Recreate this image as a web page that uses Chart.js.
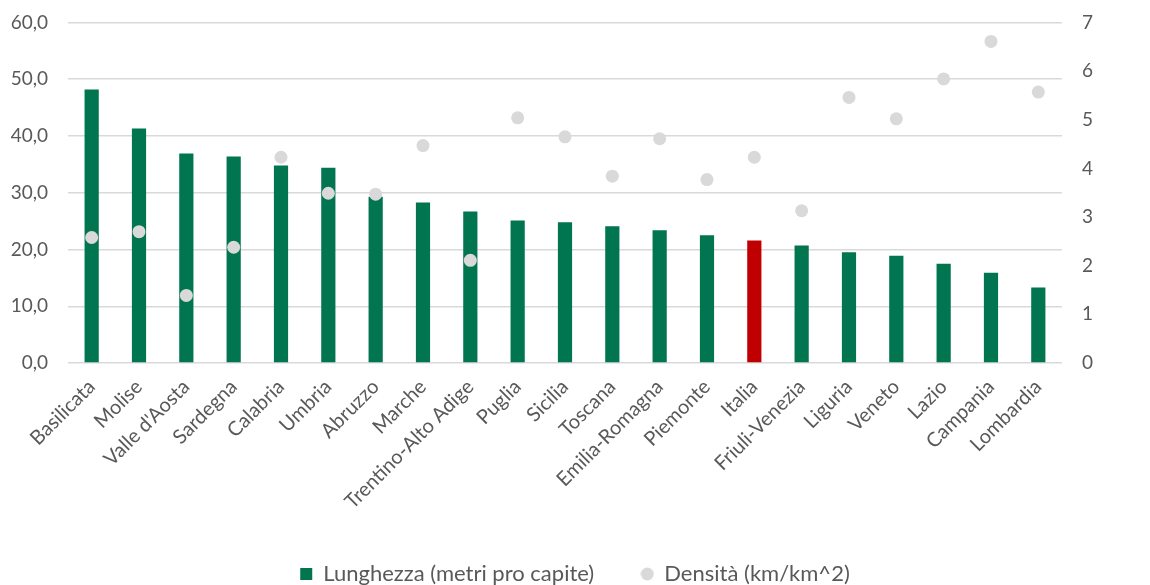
<!DOCTYPE html>
<html lang="it">
<head>
<meta charset="UTF-8">
<title>Lunghezza e densità per regione</title>
<style>
  body { margin: 0; background: #fff; overflow: hidden; }
  .wrap { width: 1150px; height: 592px; margin-top: -7px; }
</style>
</head>
<body>
<div class="wrap"><canvas id="chart"></canvas></div>

<script src="https://cdn.jsdelivr.net/npm/chart.js"></script>
<script>
// dati
const regioni = ['Basilicata', 'Molise', "Valle d'Aosta", 'Sardegna', 'Calabria', 'Umbria', 'Abruzzo',
  'Marche', 'Trentino-Alto Adige', 'Puglia', 'Sicilia', 'Toscana', 'Emilia-Romagna', 'Piemonte',
  'Italia', 'Friuli-Venezia', 'Liguria', 'Veneto', 'Lazio', 'Campania', 'Lombardia'];
const lunghezza = [48.2, 41.3, 36.9, 36.4, 34.8, 34.4, 29.3, 28.3, 26.7, 25.1, 24.8, 24.1, 23.4,
  22.5, 21.6, 20.7, 19.5, 18.9, 17.5, 15.9, 13.3];
const densita = [2.58, 2.70, 1.39, 2.38, 4.23, 3.49, 3.47, 4.47, 2.11, 5.04, 4.65, 3.84, 4.61,
  3.77, 4.23, 3.13, 5.46, 5.02, 5.84, 6.61, 5.57];
const ticksSx = [0, 10, 20, 30, 40, 50, 60];
const ticksDx = [0, 1, 2, 3, 4, 5, 6, 7];

const verde = '#00754F';
const rosso = '#C00000';
const grigio = '#D9D9D9';
const testo = '#595959';
const font = 'Lato';

// pallino piccolo per la legenda
const pallino = document.createElement('canvas');
pallino.width = 14; pallino.height = 14;
const pc = pallino.getContext('2d');
pc.fillStyle = grigio;
pc.beginPath(); pc.arc(7, 7, 6.5, 0, Math.PI * 2); pc.fill();

const ctx = document.getElementById('chart').getContext('2d');
const chart = new Chart(ctx, {
  type: 'bar',
  data: {
    labels: regioni,
    datasets: [
      {
        type: 'line',
        label: 'Densità (km/km^2)',
        data: densita,
        yAxisID: 'y1',
        showLine: false,
        pointStyle: 'circle',
        pointRadius: 6.5,
        pointHoverRadius: 6.5,
        pointBackgroundColor: grigio,
        pointBorderWidth: 0,
        backgroundColor: grigio,
        borderColor: grigio,
        order: 0
      },
      {
        label: 'Lunghezza (metri pro capite)',
        data: lunghezza,
        yAxisID: 'y',
        backgroundColor: regioni.map(r => r === 'Italia' ? rosso : verde),
        borderWidth: 0,
        pointStyle: 'rect',
        barPercentage: 0.3,
        categoryPercentage: 1,
        order: 1
      }
    ]
  },
  options: {
    responsive: true,
    maintainAspectRatio: false,
    animation: false,
    layout: { padding: { top: 0, left: 0, right: 0, bottom: -10 } },
    plugins: {
      tooltip: { enabled: false },
      legend: {
        position: 'bottom',
        reverse: true,
        labels: {
          usePointStyle: true,
          boxWidth: 12,
          boxHeight: 12,
          padding: 2,
          color: testo,
          font: { family: font, size: 22 },
          generateLabels: c => {
            const items = Chart.defaults.plugins.legend.labels.generateLabels(c);
            items.forEach(it => {
              if (it.datasetIndex === 0) it.pointStyle = pallino;
              else it.text = it.text + '        ';
            });
            return items;
          }
        }
      }
    },
    scales: {
      x: {
        grid: { display: false },
        border: { display: false },
        afterFit: s => { s.height = 198; },
        ticks: {
          color: testo,
          font: { family: font, size: 20 },
          minRotation: 45,
          maxRotation: 45,
          autoSkip: false,
          padding: 4
        }
      },
      y: {
        position: 'left',
        min: 0,
        max: 60,
        afterBuildTicks: s => { s.ticks = ticksSx.map(v => ({ value: v })); },
        afterFit: s => { s.width = 68; },
        grid: { color: grigio, lineWidth: 1.5, drawTicks: false },
        border: { display: false },
        ticks: {
          color: testo,
          font: { family: font, size: 19, lineHeight: 1 },
          padding: 20,
          callback: v => v.toFixed(1).replace('.', ',')
        }
      },
      y1: {
        position: 'right',
        min: 0,
        max: 7,
        afterBuildTicks: s => { s.ticks = ticksDx.map(v => ({ value: v })); },
        afterFit: s => { s.width += 37; },
        grid: { display: false, drawTicks: false },
        border: { display: false },
        ticks: {
          color: testo,
          font: { family: font, size: 19, lineHeight: 1 },
          padding: 20
        }
      }
    }
  }
});
</script>
</body>
</html>
